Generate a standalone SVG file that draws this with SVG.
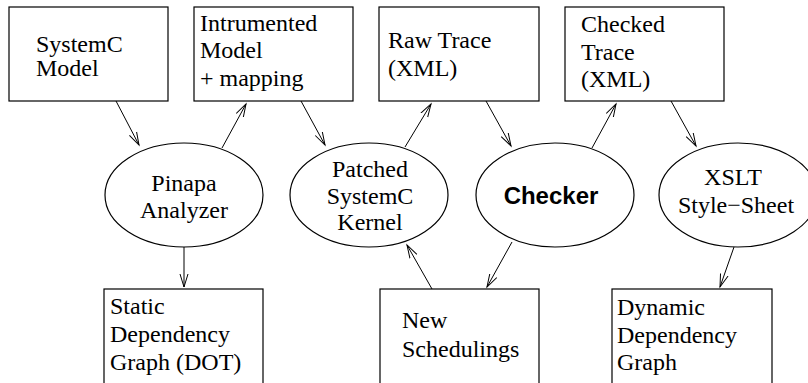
<svg xmlns="http://www.w3.org/2000/svg" width="808" height="383" viewBox="0 0 808 383">
<style>
.box{fill:#fff;stroke:#000;stroke-width:1.2}
.ell{fill:#fff;stroke:#000;stroke-width:1.2}
.t{font-family:"Liberation Serif","Times New Roman",serif;font-size:24px;fill:#000}
.m{text-anchor:middle}
.b{font-family:"Liberation Sans",Arial,sans-serif;font-weight:bold;font-size:24px;fill:#000;text-anchor:middle}
.c{stroke:#000;stroke-width:1;fill:none;marker-end:url(#arr)}
</style>
<defs>
<marker id="arr" markerUnits="userSpaceOnUse" markerWidth="16" markerHeight="12" refX="13" refY="5" orient="auto">
<path d="M0,1 L13,5 L0,9" fill="none" stroke="#000" stroke-width="1"/>
</marker>
</defs>
<g id="connectors">
<line class="c" x1="116" y1="101" x2="139" y2="145"/>
<line class="c" x1="222" y1="148" x2="246" y2="104"/>
<line class="c" x1="301" y1="101" x2="325" y2="145"/>
<line class="c" x1="405" y1="147" x2="431" y2="104"/>
<line class="c" x1="486" y1="101" x2="511" y2="146"/>
<line class="c" x1="592" y1="148" x2="616" y2="104"/>
<line class="c" x1="671" y1="101" x2="696" y2="146"/>
<line class="c" x1="184" y1="247" x2="184" y2="287"/>
<line class="c" x1="432" y1="289" x2="407" y2="245"/>
<line class="c" x1="512" y1="242" x2="487" y2="287"/>
<line class="c" x1="734" y1="247" x2="720" y2="287"/>
</g>
<g id="systemc-model">
<rect class="box" x="9" y="7" width="159" height="94"/>
<text class="t" x="36" y="52">SystemC</text>
<text class="t" x="36" y="76">Model</text>
</g>
<g id="instrumented-model">
<rect class="box" x="194" y="7" width="159" height="94"/>
<text class="t" x="200" y="31">Intrumented</text>
<text class="t" x="200" y="58">Model</text>
<text class="t" x="200" y="86">+ mapping</text>
</g>
<g id="raw-trace">
<rect class="box" x="379" y="7" width="160" height="94"/>
<text class="t" x="388" y="48">Raw Trace</text>
<text class="t" x="388" y="76">(XML)</text>
</g>
<g id="checked-trace">
<rect class="box" x="565" y="7" width="159" height="94"/>
<text class="t" x="581" y="32">Checked</text>
<text class="t" x="581" y="60">Trace</text>
<text class="t" x="581" y="87">(XML)</text>
</g>
<g id="pinapa">
<ellipse class="ell" cx="184" cy="195" rx="79" ry="52"/>
<text class="t m" x="184" y="191">Pinapa</text>
<text class="t m" x="184" y="218">Analyzer</text>
</g>
<g id="patched-kernel">
<ellipse class="ell" cx="369" cy="195" rx="79" ry="52"/>
<text class="t m" x="370" y="177">Patched</text>
<text class="t m" x="370" y="204">SystemC</text>
<text class="t m" x="370" y="230">Kernel</text>
</g>
<g id="checker">
<ellipse class="ell" cx="555" cy="195" rx="79" ry="52"/>
<text class="b" x="551" y="204">Checker</text>
</g>
<g id="xslt">
<ellipse class="ell" cx="738" cy="195" rx="79" ry="52"/>
<text class="t m" x="733" y="185">XSLT</text>
<text class="t m" x="736" y="213">Style−Sheet</text>
</g>
<g id="static-graph">
<rect class="box" x="104" y="289" width="159" height="96"/>
<text class="t" x="110" y="314">Static</text>
<text class="t" x="110" y="342">Dependency</text>
<text class="t" x="110" y="370">Graph (DOT)</text>
</g>
<g id="new-schedulings">
<rect class="box" x="380" y="289" width="159" height="96"/>
<text class="t" x="402" y="328">New</text>
<text class="t" x="402" y="357">Schedulings</text>
</g>
<g id="dynamic-graph">
<rect class="box" x="612" y="289" width="160" height="96"/>
<text class="t" x="617" y="315">Dynamic</text>
<text class="t" x="617" y="343">Dependency</text>
<text class="t" x="617" y="370">Graph</text>
</g>
</svg>
